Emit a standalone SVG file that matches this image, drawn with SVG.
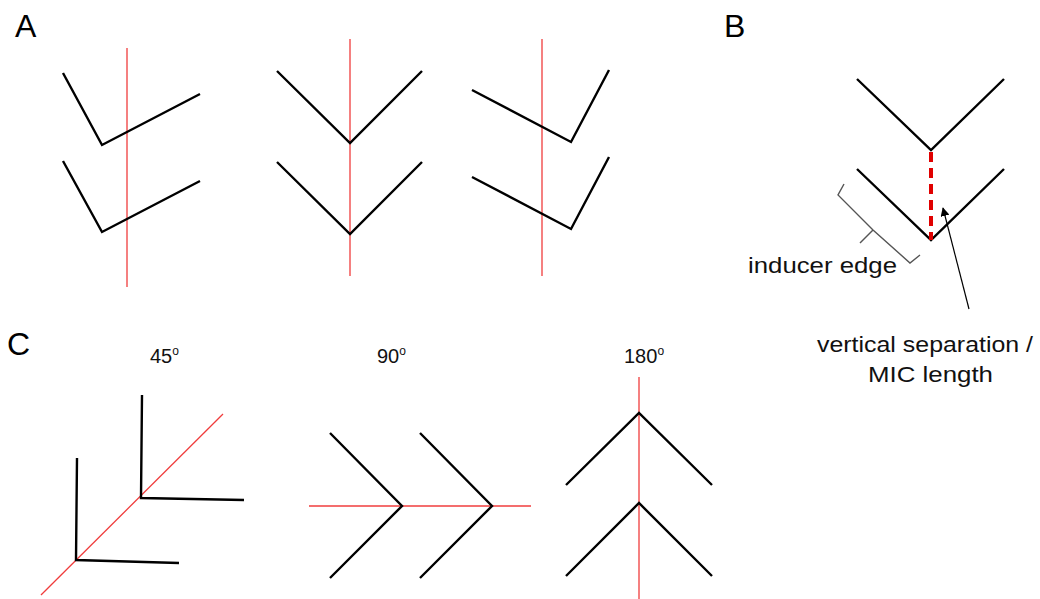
<svg xmlns="http://www.w3.org/2000/svg" width="1040" height="599" viewBox="0 0 1040 599">
<style>
.bk{fill:none;stroke:#000;stroke-width:2.4;stroke-linejoin:miter}
.rd{fill:none;stroke:#f03c3c;stroke-width:1.3}
.lbl{font-family:"Liberation Sans",Arial,sans-serif;font-size:32px;fill:#000}
.t{font-family:"Liberation Sans",Arial,sans-serif;font-size:22px;fill:#111}
.deg{font-family:"Liberation Sans",Arial,sans-serif;font-size:20px;fill:#111}
.sup{font-size:12px}
</style>
<defs>
<marker id="ah" viewBox="0 0 10 10" refX="9" refY="5" markerWidth="9" markerHeight="9" markerUnits="userSpaceOnUse" orient="auto">
<path d="M0,0 L10,5 L0,10 z" fill="#000"/>
</marker>
</defs>
<rect width="1040" height="599" fill="#fff"/>
<text class="lbl" x="15" y="37">A</text>
<text class="lbl" x="724" y="37">B</text>
<text class="lbl" x="7" y="355">C</text>

<g id="A1">
<line class="rd" x1="127" y1="48" x2="127" y2="287"/>
<polyline class="bk" points="63,73 102,145 200,94"/>
<polyline class="bk" points="63,161 102,232 200,181"/>
</g>
<g id="A2">
<line class="rd" x1="350" y1="39" x2="350" y2="276"/>
<polyline class="bk" points="277,71 350,143 422,71"/>
<polyline class="bk" points="277,162 350,234 422,162"/>
</g>
<g id="A3">
<line class="rd" x1="542" y1="39" x2="542" y2="276"/>
<polyline class="bk" points="472,90 571,142 609,70"/>
<polyline class="bk" points="472,177 571,229 609,157"/>
</g>

<g id="B">
<polyline class="bk" points="857,79 931,150 1004,79"/>
<polyline class="bk" points="857,169 931,240 1004,169"/>
<line x1="931" y1="152" x2="931" y2="240" stroke="#e00000" stroke-width="4" stroke-dasharray="10,6"/>
<polyline fill="none" stroke="#555" stroke-width="1.4" points="844,184 838,195 873,230 910,263 920,255"/>
<line x1="873" y1="230" x2="860" y2="243" stroke="#555" stroke-width="1.4"/>
<text class="t" x="748" y="273" textLength="149" lengthAdjust="spacingAndGlyphs">inducer edge</text>
<text class="t" x="817" y="352" textLength="216" lengthAdjust="spacingAndGlyphs">vertical separation /</text>
<text class="t" x="868" y="382" textLength="125" lengthAdjust="spacingAndGlyphs">MIC length</text>
</g>
<g id="connectors">
<line x1="969" y1="309" x2="943" y2="208" stroke="#000" stroke-width="1.2" marker-end="url(#ah)"/>
</g>

<text class="deg" x="150" y="363">45<tspan class="sup" dy="-8">o</tspan></text>
<text class="deg" x="377" y="363">90<tspan class="sup" dy="-8">o</tspan></text>
<text class="deg" x="624" y="363">180<tspan class="sup" dy="-8">o</tspan></text>

<g id="C45">
<line class="rd" x1="41" y1="595" x2="223" y2="414"/>
<polyline class="bk" points="142,395 141,498 244,500"/>
<polyline class="bk" points="77,458 76,560 179,563"/>
</g>
<g id="C90">
<line class="rd" x1="309" y1="506" x2="531" y2="506"/>
<polyline class="bk" points="330,433 402,506 330,578"/>
<polyline class="bk" points="420,433 492,506 420,578"/>
</g>
<g id="C180">
<line class="rd" x1="639" y1="377" x2="639" y2="599"/>
<polyline class="bk" points="566,485 639,413 712,485"/>
<polyline class="bk" points="566,576 639,503 712,576"/>
</g>
</svg>
